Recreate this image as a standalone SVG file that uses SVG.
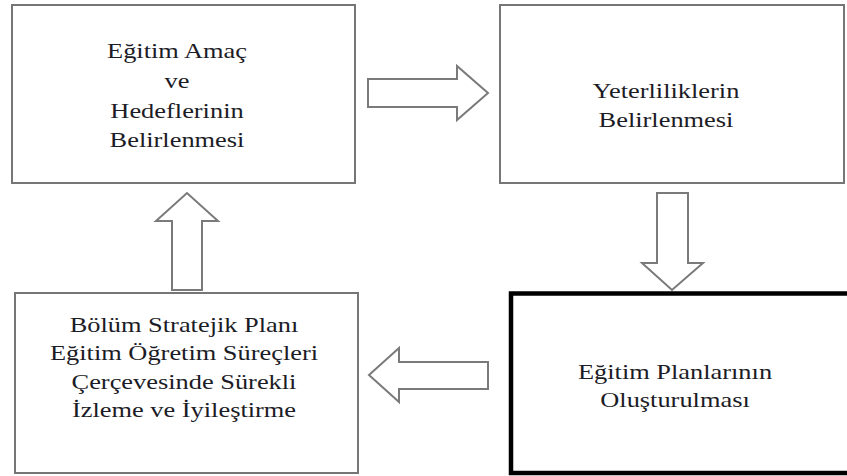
<svg xmlns="http://www.w3.org/2000/svg" width="847" height="476" viewBox="0 0 847 476">
  <style>
    .box { fill: #ffffff; stroke: #767676; stroke-width: 2; }
    .box-bold { fill: #ffffff; stroke: #000000; stroke-width: 4.5; }
    .flow { fill: #ffffff; stroke: #7a7a7a; stroke-width: 2; stroke-linejoin: miter; }
    text.label { font-family: "Liberation Serif", "Times New Roman", "DejaVu Serif", serif; font-size: 22px; fill: #1c1c26; text-anchor: middle; }
  </style>
  <rect width="847" height="476" fill="#ffffff"/>

  <!-- block arrows between steps -->
  <g id="connectors">
    <polygon class="flow" points="368,79 457,79 457,66 488,93 457,120 457,107 368,107"/>
    <polygon class="flow" points="657,193 688,193 688,263 703,263 672,290 642,263 657,263"/>
    <polygon class="flow" points="488,362 399,362 399,348 369,375 399,402 399,389 488,389"/>
    <polygon class="flow" points="172,290 172,221 156,221 187,193 218,221 202,221 202,290"/>
  </g>

  <g id="node-amac">
    <rect class="box" x="12" y="5" width="343" height="178"/>
    <g transform="translate(177,0) scale(1.2,1)">
      <text class="label" font-family="Liberation Serif, serif" x="0" y="58">Eğitim Amaç</text>
      <text class="label" font-family="Liberation Serif, serif" x="0" y="88">ve</text>
      <text class="label" font-family="Liberation Serif, serif" x="0" y="118">Hedeflerinin</text>
      <text class="label" font-family="Liberation Serif, serif" x="0" y="147">Belirlenmesi</text>
    </g>
  </g>

  <g id="node-yeterlilik">
    <rect class="box" x="500" y="5" width="344" height="178"/>
    <g transform="translate(666,0) scale(1.2,1)">
      <text class="label" font-family="Liberation Serif, serif" x="0" y="98">Yeterliliklerin</text>
      <text class="label" font-family="Liberation Serif, serif" x="0" y="127">Belirlenmesi</text>
    </g>
  </g>

  <g id="node-plan">
    <rect class="box-bold" x="511" y="293.5" width="360" height="179.5"/>
    <g transform="translate(675,0) scale(1.2,1)">
      <text class="label" font-family="Liberation Serif, serif" x="0" y="379">Eğitim Planlarının</text>
      <text class="label" font-family="Liberation Serif, serif" x="0" y="407">Oluşturulması</text>
    </g>
  </g>

  <g id="node-izleme">
    <rect class="box" x="15" y="293" width="343" height="180"/>
    <g transform="translate(184,0) scale(1.2,1)">
      <text class="label" font-family="Liberation Serif, serif" x="0" y="332">Bölüm Stratejik Planı</text>
      <text class="label" font-family="Liberation Serif, serif" x="0" y="360">Eğitim Öğretim Süreçleri</text>
      <text class="label" font-family="Liberation Serif, serif" x="0" y="389">Çerçevesinde Sürekli</text>
      <text class="label" font-family="Liberation Serif, serif" x="0" y="417">İzleme ve İyileştirme</text>
    </g>
  </g>
</svg>
